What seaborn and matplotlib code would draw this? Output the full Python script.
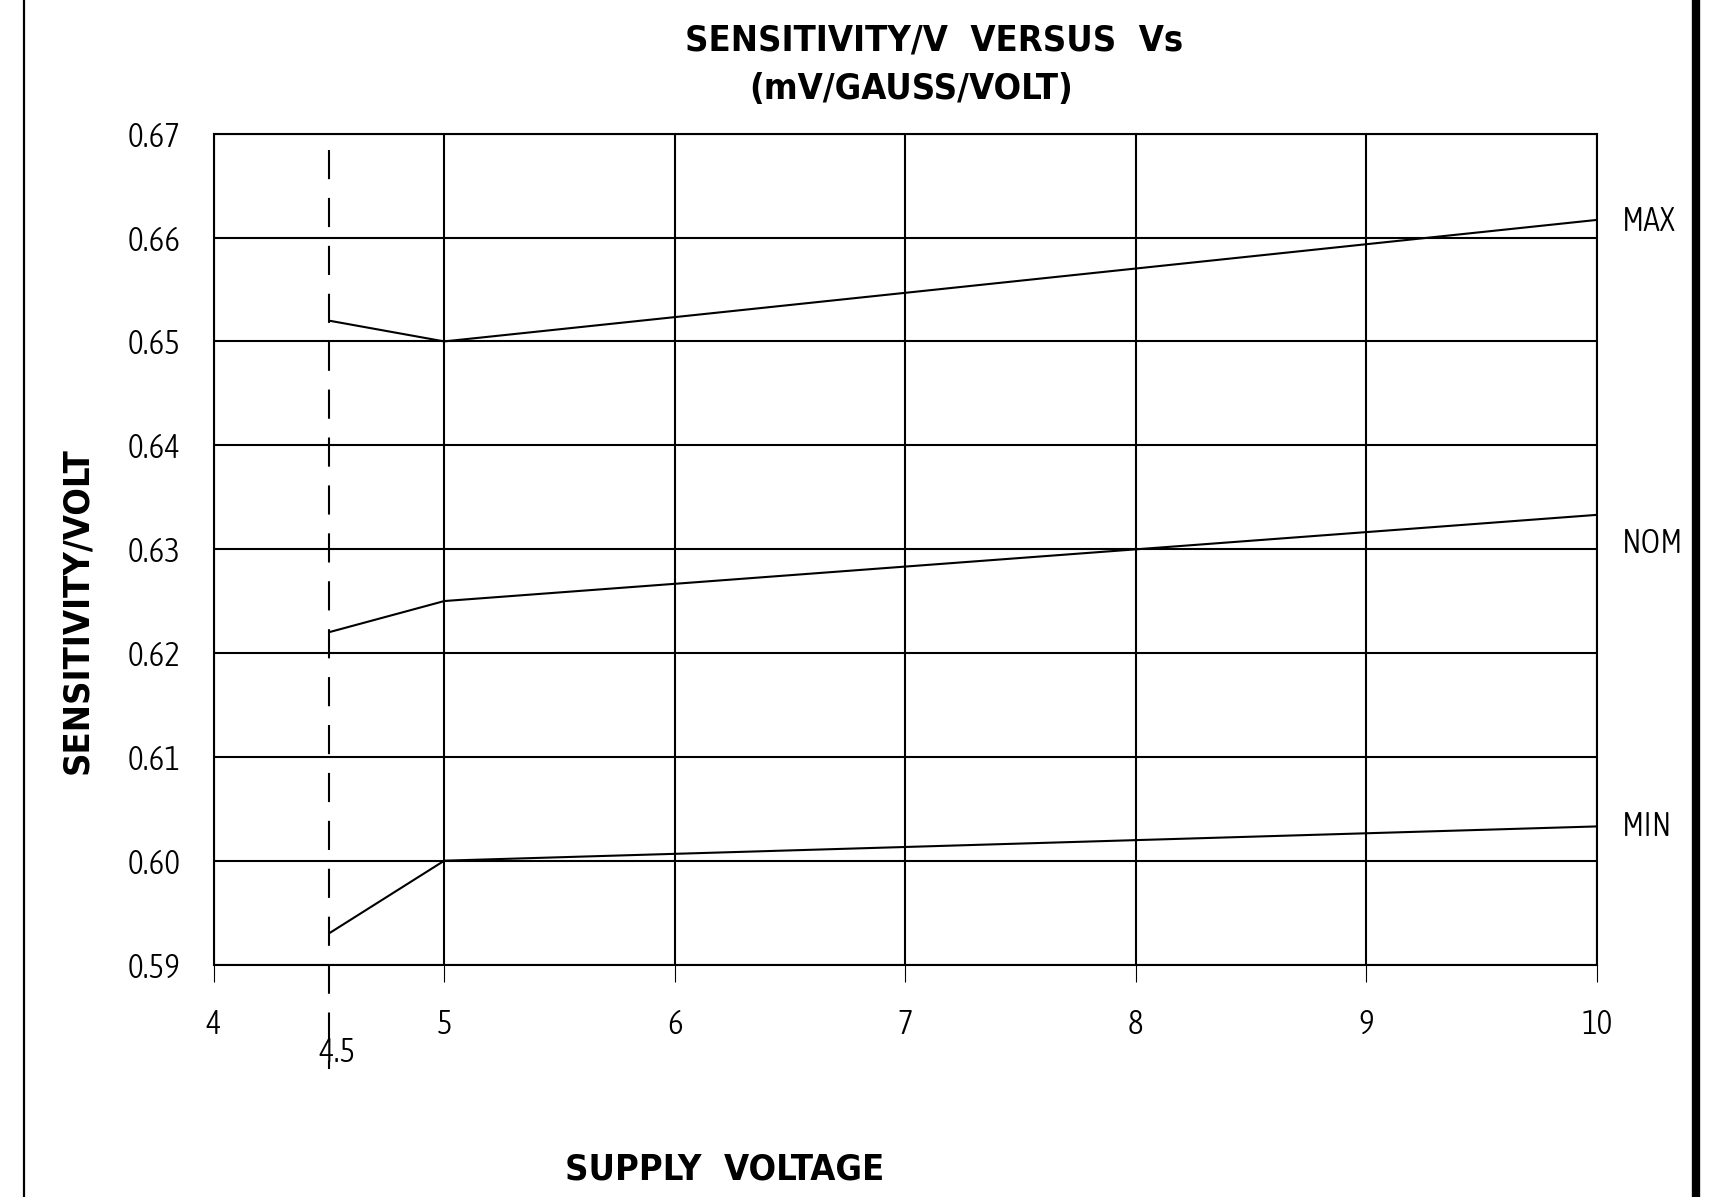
import matplotlib
matplotlib.use("Agg")
import matplotlib.pyplot as plt
from matplotlib.lines import Line2D
from matplotlib import font_manager as fm
import seaborn as sns
import pandas as pd

# ---- data ----
voltage = [4.5, 5, 10]
sens_max = [0.652, 0.650, 0.6617]
sens_nom = [0.622, 0.625, 0.6333]
sens_min = [0.593, 0.600, 0.6033]
curve_names = ["MAX", "NOM", "MIN"]
label_y = [0.6615, 0.6305, 0.6033]
x_ticks = [4, 5, 6, 7, 8, 9, 10]
x_ticklabels = ["4", "5", "6", "7", "8", "9", "10"]
y_ticks = [0.59, 0.60, 0.61, 0.62, 0.63, 0.64, 0.65, 0.66, 0.67]
y_ticklabels = ["0.59", "0.60", "0.61", "0.62", "0.63", "0.64", "0.65", "0.66", "0.67"]
min_voltage = 4.5
min_voltage_label = "4.5"
dash_range = [0.6684, 0.5799]

df = pd.DataFrame({
    "voltage": voltage * 3,
    "sens": sens_max + sens_nom + sens_min,
    "curve": [c for c in curve_names for _ in voltage],
})

sns.set_theme(style="white")
plt.rcParams["font.family"] = ["DejaVu Sans"]
plt.rcParams["text.color"] = "black"
plt.rcParams["xtick.color"] = "black"
plt.rcParams["ytick.color"] = "black"

WEIGHTS = {"ultralight": 200, "light": 300, "normal": 400, "regular": 400, "book": 400,
           "medium": 500, "semibold": 600, "demibold": 600, "bold": 700, "heavy": 800,
           "extra bold": 800, "black": 900}


def narrow_font(target, size):
    """Find a condensed/narrow font file closest to the target weight."""
    best = None
    for f in fm.fontManager.ttflist:
        nm = f.name
        is_narrow = ("Narrow" in nm or "Condensed" in nm or
                     str(f.stretch) in ("condensed", "semi-condensed"))
        if not is_narrow or f.style != "normal":
            continue
        w = f.weight if isinstance(f.weight, int) else WEIGHTS.get(str(f.weight), 400)
        key = (abs(w - target), 0 if "DejaVu" in nm else 1, nm)
        if best is None or key < best[0]:
            best = (key, f.fname)
    if best is not None:
        return fm.FontProperties(fname=best[1], size=size)
    return fm.FontProperties(family="DejaVu Sans", weight=target, stretch="condensed",
                             size=size)


F_BOLD = narrow_font(700, 26)
F_TICK = narrow_font(300, 24)

fig = plt.figure(figsize=(17.1, 11.97), dpi=100)
ax = fig.add_axes([0.125, 0.1942, 0.8089, 0.6941])

LW = 1.5
sns.lineplot(data=df, x="voltage", y="sens", units="curve", estimator=None,
             color="black", linewidth=LW, ax=ax, sort=False)

ax.set_xlim(4, 10)
ax.set_ylim(0.59, 0.67)
ax.set_xticks(x_ticks, labels=x_ticklabels)
ax.set_yticks(y_ticks, labels=y_ticklabels)
ax.grid(True, color="black", linewidth=LW)
for s in ax.spines.values():
    s.set_visible(True)
    s.set_color("black")
    s.set_linewidth(LW)
ax.tick_params(axis="x", which="major", direction="out", length=12.5, width=0.8,
               color="black", pad=19, bottom=True)
ax.tick_params(axis="y", which="major", length=0, pad=24)
for lab in ax.get_xticklabels() + ax.get_yticklabels():
    lab.set_fontproperties(F_TICK)
    lab.set_color("black")
ax.set_xlabel("")
ax.set_ylabel("")

# dashed minimum-voltage line
ax.plot([min_voltage, min_voltage], dash_range, color="black", linewidth=LW,
        dashes=(14, 9), clip_on=False)
ax.annotate(min_voltage_label, xy=(min_voltage, 0.59), xytext=(6, -63),
            textcoords="offset points", ha="center", va="center",
            fontproperties=F_TICK, color="black", annotation_clip=False)

# curve labels
for name, yv in zip(curve_names, label_y):
    ax.text(10.11, yv, name, ha="left", va="center", fontproperties=F_TICK,
            color="black", clip_on=False)

# titles and labels
fig.text(0.546, 0.966, "SENSITIVITY/V  VERSUS  Vs", ha="center", va="center",
         fontproperties=F_BOLD, color="black")
fig.text(0.533, 0.926, "(mV/GAUSS/VOLT)", ha="center", va="center",
         fontproperties=F_BOLD, color="black")
fig.text(0.424, 0.023, "SUPPLY  VOLTAGE", ha="center", va="center",
         fontproperties=F_BOLD, color="black")
fig.text(0.045, 0.490, "SENSITIVITY/VOLT", ha="center", va="center",
         fontproperties=F_BOLD, color="black", rotation=90)

# frame lines of the drawing sheet
fig.add_artist(Line2D([0.014, 0.014], [0, 1], transform=fig.transFigure,
                      color="black", linewidth=1.6))
fig.add_artist(Line2D([0.992, 0.992], [0, 1], transform=fig.transFigure,
                      color="black", linewidth=6))

fig.savefig("out.png", dpi=100, facecolor="white")
